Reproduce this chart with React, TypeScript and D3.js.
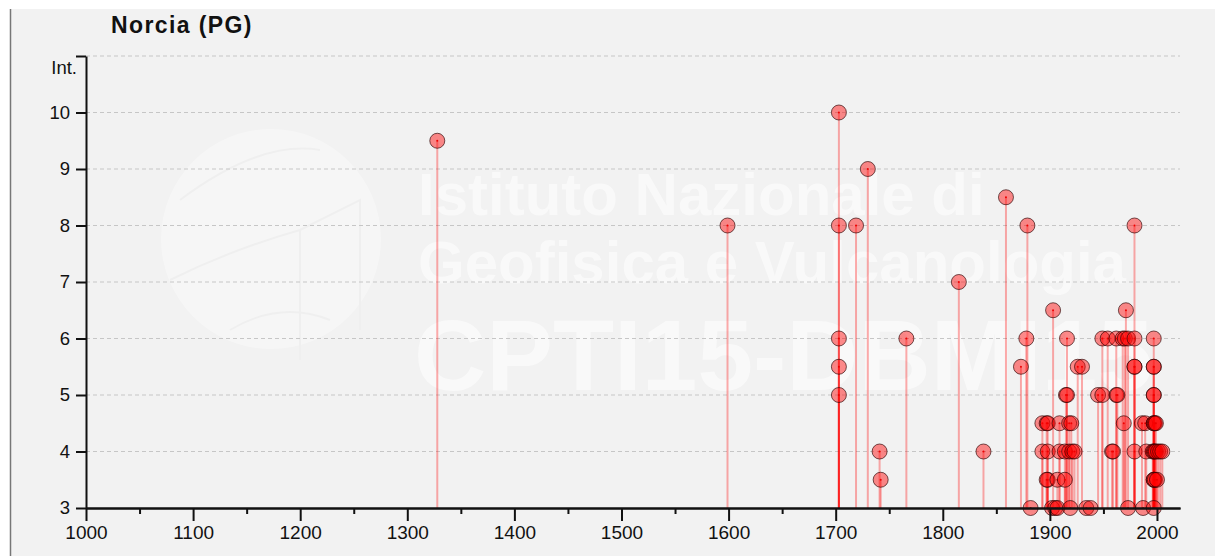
import React, { useEffect, useRef } from 'react';
import * as d3 from 'd3';

// Earthquake history for Norcia (PG): year of event and intensity at the site
const eventYears = [
  1328, 1599, 1703, 1703, 1703, 1703, 1703, 1719, 1730, 1741, 1742, 1766, 1815, 1838, 1859,
  1873, 1878, 1879, 1882, 1893, 1893, 1897, 1898, 1898, 1898, 1897, 1903, 1902, 1905, 1907,
  1907, 1909, 1909, 1914, 1914, 1915, 1916, 1916, 1918, 1918, 1919, 1920, 1921, 1923, 1926,
  1930, 1934, 1938, 1945, 1949, 1949, 1954, 1958, 1959, 1962, 1963, 1962, 1968, 1969, 1970,
  1971, 1973, 1973, 1979, 1979, 1979, 1979, 1979, 1986, 1987, 1989, 1990, 1996, 1997, 1997,
  1997, 1997, 1997, 1997, 1997, 1998, 1997, 1998, 1997, 1997, 1998, 1997, 1999, 1999, 2000,
  2001, 2003, 2005,
];
const eventIntensities = [
  9.5, 8, 10, 8, 6, 5.5, 5, 8, 9, 4, 3.5, 6, 7, 4, 8.5,
  5.5, 6, 8, 3, 4.5, 4, 4.5, 4.5, 4, 3.5, 3.5, 6.5, 3, 3, 3,
  3.5, 4.5, 4, 4, 3.5, 5, 5, 6, 4.5, 4, 3, 4.5, 4, 4, 5.5,
  5.5, 3, 3, 5, 5, 6, 6, 4, 4, 5, 5, 6, 6, 4.5, 6,
  6.5, 6, 3, 8, 6, 5.5, 5.5, 4, 4.5, 3, 4.5, 4, 4, 6, 5.5,
  5.5, 5, 5, 4.5, 4.5, 4.5, 4, 4, 3.5, 3.5, 3.5, 3, 4.5, 4, 3.5,
  4, 4, 4,
];
const majorYearTicks = [1000, 1100, 1200, 1300, 1400, 1500, 1600, 1700, 1800, 1900, 2000];
const minorYearTicks = [1050, 1150, 1250, 1350, 1450, 1550, 1650, 1750, 1850, 1950];
const intensityTicks = [3, 4, 5, 6, 7, 8, 9, 10, 11];
const watermarkLines = ['Istituto Nazionale di', 'Geofisica e Vulcanologia'];
const watermarkCode = 'CPTI15-DBMI15';

export default function App() {
  const svgRef = useRef<SVGSVGElement>(null);

  useEffect(() => {
    document.body.style.margin = '0';
    const width = 1215;
    const height = 556;
    const font = "'Liberation Sans', Arial, sans-serif";

    const svg = d3.select(svgRef.current);
    svg.selectAll('*').remove();
    svg.attr('width', width).attr('height', height);

    // panel
    svg.append('rect').attr('width', width).attr('height', height).attr('fill', '#fff');
    svg.append('rect')
      .attr('x', 10).attr('y', 9)
      .attr('width', width - 10).attr('height', height - 9)
      .attr('fill', '#f2f2f2');
    svg.append('line')
      .attr('x1', 10.5).attr('x2', 10.5).attr('y1', 9).attr('y2', height)
      .attr('stroke', '#777').attr('stroke-width', 1.5);

    const x = d3.scaleLinear().domain([1000, 2021.5]).range([86, 1180]);
    const y = d3.scaleLinear().domain([3, 11]).range([508, 56]);

    // watermark logo + text
    const logo = svg.append('g').attr('opacity', 0.35);
    logo.append('circle').attr('cx', 271).attr('cy', 239).attr('r', 110).attr('fill', '#fff');
    const logoLines = logo.append('g').attr('stroke', '#ececec').attr('stroke-width', 2).attr('fill', 'none');
    logoLines.append('path').attr('d', 'M180,200 Q260,140 320,150');
    logoLines.append('path').attr('d', 'M170,280 Q230,250 300,230 L300,360');
    logoLines.append('path').attr('d', 'M300,230 L360,200 L360,330');
    logoLines.append('path').attr('d', 'M230,330 Q280,300 330,320');

    const wm = svg.append('g').attr('fill', '#fff').attr('opacity', 0.55);
    watermarkLines.forEach((t, i) => {
      wm.append('text')
        .attr('x', 418).attr('y', 215 + i * 68)
        .attr('font-family', font).attr('font-weight', 'bold').attr('font-size', 60)
        .text(t);
    });
    wm.append('text')
      .attr('x', 414).attr('y', 390)
      .attr('font-family', font).attr('font-weight', 'bold').attr('font-size', 100)
      .text(watermarkCode);

    // grid
    svg.append('g')
      .selectAll('line')
      .data(intensityTicks.filter(d => d > 3))
      .join('line')
      .attr('x1', x.range()[0]).attr('x2', x.range()[1])
      .attr('y1', d => y(d)).attr('y2', d => y(d))
      .attr('stroke', '#c6c6c6').attr('stroke-dasharray', '4,3');

    // title
    svg.append('text')
      .attr('x', 111).attr('y', 33)
      .attr('font-family', font).attr('font-weight', 'bold').attr('font-size', 23)
      .attr('letter-spacing', 1.4)
      .attr('fill', '#111')
      .text('Norcia (PG)');

    // stems and points
    const points = eventYears.map((yr, i) => ({ year: yr, intensity: eventIntensities[i] }));
    svg.append('g')
      .selectAll('line')
      .data(points)
      .join('line')
      .attr('x1', d => x(d.year)).attr('x2', d => x(d.year))
      .attr('y1', d => y(d.intensity)).attr('y2', y(3))
      .attr('stroke', 'rgba(255,0,0,0.32)').attr('stroke-width', 2);

    const dots = svg.append('g').selectAll('g').data(points).join('g')
      .attr('transform', d => `translate(${x(d.year)},${y(d.intensity)})`);
    dots.append('circle')
      .attr('r', 7.5)
      .attr('fill', 'rgba(255,0,0,0.45)')
      .attr('stroke', 'rgba(40,0,0,0.65)').attr('stroke-width', 1);
    dots.append('circle').attr('r', 1).attr('fill', '#e00');

    // axes
    const xAxis = d3.axisBottom(x).tickValues(majorYearTicks).tickSize(13).tickSizeOuter(0)
      .tickPadding(5).tickFormat(d3.format('d'));
    const xMinor = d3.axisBottom(x).tickValues(minorYearTicks).tickSize(6).tickSizeOuter(0)
      .tickFormat(() => '');
    const yAxis = d3.axisLeft(y).tickValues(intensityTicks).tickSize(10).tickSizeOuter(0)
      .tickPadding(6).tickFormat(d => (+d === 11 ? 'Int.' : String(d)));

    [xMinor, xAxis].forEach(ax => {
      svg.append('g')
        .attr('transform', `translate(0,${y(3)})`)
        .call(ax as any)
        .call(g => g.selectAll('path, line').attr('stroke', '#111').attr('stroke-width', 2))
        .call(g => g.selectAll('text').attr('font-size', 19).attr('font-family', font).attr('fill', '#111'));
    });

    const yG = svg.append('g')
      .attr('transform', `translate(${x(1000)},0)`)
      .call(yAxis as any)
      .call(g => g.selectAll('path, line').attr('stroke', '#111').attr('stroke-width', 2))
      .call(g => g.selectAll('text').attr('font-size', 18.5).attr('font-family', font).attr('fill', '#111'));
    yG.selectAll('.tick')
      .filter((d: any) => d === 11)
      .select('text').attr('x', -9).attr('dy', '0.95em');
  }, []);

  return <svg ref={svgRef} style={{ display: 'block' }}></svg>;
}
